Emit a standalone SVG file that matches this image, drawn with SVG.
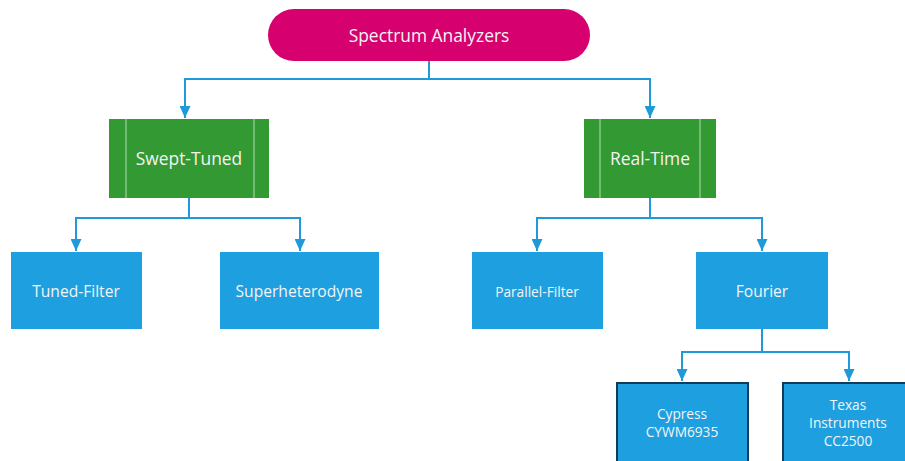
<svg xmlns="http://www.w3.org/2000/svg" width="905" height="461" viewBox="0 0 905 461">
<style>
text{font-family:"Open Sans","Noto Sans","DejaVu Sans",sans-serif;fill:#f4f4f4;text-anchor:middle;dominant-baseline:central}
.t17{font-size:17.4px}
.t16{font-size:15.6px}
.t13{font-size:13.7px}
.blue{fill:#1ea0e0}
.green{fill:#339933}
.inner{stroke:#9fd39f;stroke-width:1.2}
.leaf{fill:#1ea0e0;stroke:#0f3c5a;stroke-width:2}
.con{fill:none;stroke:#1e9ad8;stroke-width:2}
</style>
<defs>
<marker id="ah" markerWidth="12" markerHeight="11" refX="12" refY="5.5" orient="auto" markerUnits="userSpaceOnUse">
<path d="M0,0 L12,5.5 L0,11 Z" fill="#1e9ad8"/>
</marker>
</defs>
<rect width="905" height="461" fill="#ffffff"/>
<g id="connectors">
<path class="con" d="M429,61 V79 H185 V118" marker-end="url(#ah)"/>
<path class="con" d="M429,79 H650 V118" marker-end="url(#ah)"/>
<path class="con" d="M189,198 V218 H76 V251" marker-end="url(#ah)"/>
<path class="con" d="M189,218 H300 V251" marker-end="url(#ah)"/>
<path class="con" d="M650,198 V218 H537 V251" marker-end="url(#ah)"/>
<path class="con" d="M650,218 H762 V251" marker-end="url(#ah)"/>
<path class="con" d="M762,329 V352 H682 V381" marker-end="url(#ah)"/>
<path class="con" d="M762,352 H849 V381" marker-end="url(#ah)"/>
</g>
<g id="spectrum-analyzers">
<rect x="268" y="9" width="322" height="52" rx="26" fill="#d6006f"/>
<text class="t17" x="429" y="35">Spectrum Analyzers</text>
</g>
<g id="swept-tuned">
<rect class="green" x="109" y="119" width="160" height="79"/>
<line class="inner" x1="126" y1="119" x2="126" y2="198"/>
<line class="inner" x1="254" y1="119" x2="254" y2="198"/>
<text class="t17" x="189" y="158">Swept-Tuned</text>
</g>
<g id="real-time">
<rect class="green" x="584" y="119" width="132" height="79"/>
<line class="inner" x1="600" y1="119" x2="600" y2="198"/>
<line class="inner" x1="700" y1="119" x2="700" y2="198"/>
<text class="t17" x="650" y="158">Real-Time</text>
</g>
<g id="tuned-filter">
<rect class="blue" x="11" y="252" width="131" height="77"/>
<text class="t16" x="76" y="291">Tuned-Filter</text>
</g>
<g id="superheterodyne">
<rect class="blue" x="220" y="252" width="159" height="77"/>
<text class="t16" x="299" y="291">Superheterodyne</text>
</g>
<g id="parallel-filter">
<rect class="blue" x="472" y="252" width="131" height="77"/>
<text class="t13" x="537" y="291">Parallel-Filter</text>
</g>
<g id="fourier">
<rect class="blue" x="696" y="252" width="132" height="77"/>
<text class="t16" x="762" y="291">Fourier</text>
</g>
<g id="cypress">
<rect class="leaf" x="617" y="383" width="131" height="90"/>
<text class="t13" x="682" y="413">Cypress</text>
<text class="t13" x="682" y="431">CYWM6935</text>
</g>
<g id="texas-instruments">
<rect class="leaf" x="783" y="383" width="131" height="90"/>
<text class="t13" x="848" y="404">Texas</text>
<text class="t13" x="848" y="422">Instruments</text>
<text class="t13" x="848" y="440">CC2500</text>
</g>
</svg>
